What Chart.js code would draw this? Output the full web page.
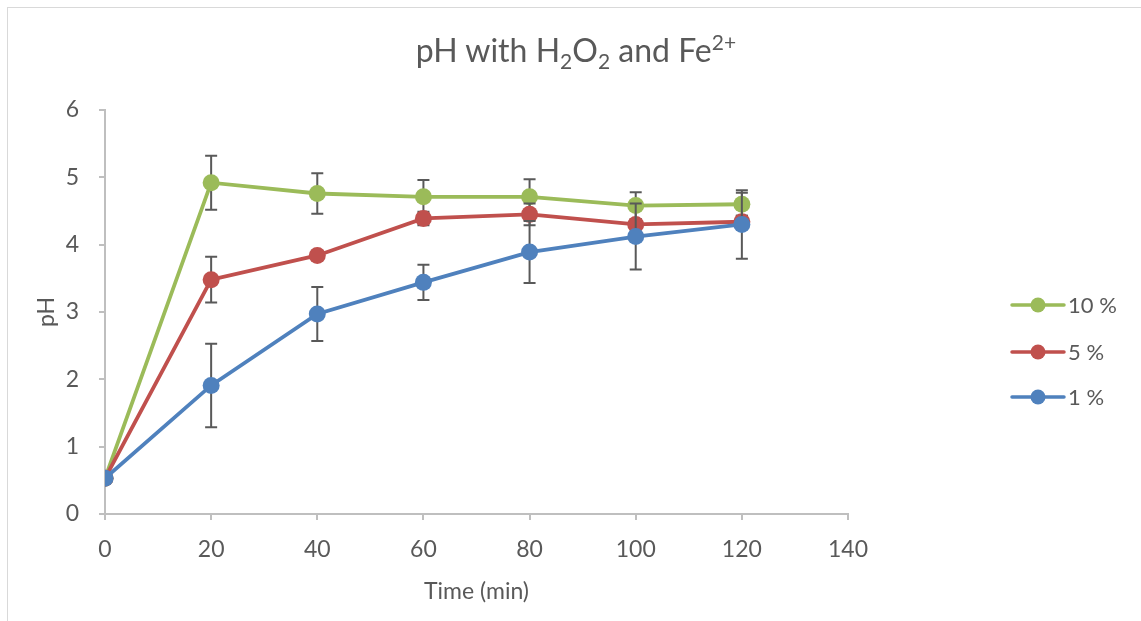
<!DOCTYPE html>
<html>
<head>
<meta charset="utf-8">
<script src="https://cdn.jsdelivr.net/npm/chart.js@4/dist/chart.umd.min.js"></script>
<style>
  html, body { margin: 0; padding: 0; background: #fff; overflow: hidden; }
  #wrap { position: relative; width: 1141px; height: 621px; }
  #frame { position: absolute; left: 7px; top: 7px; width: 1200px; height: 700px; border: 1px solid #d9d9d9; }
  #title { position: absolute; left: 0; width: 1152px; top: 29px; text-align: center;
           font-family: Lato, sans-serif; font-size: 32px; color: #595959; }
  #title sub, #title sup { font-size: 21px; }
  canvas { position: absolute; left: 0; top: 0; }
</style>
</head>
<body>
<div id="wrap">
  <div id="frame"></div>
  <canvas id="chart" width="1141" height="621"></canvas>
  <div id="title">pH with H<sub>2</sub>O<sub>2</sub> and Fe<sup>2+</sup></div>
</div>
<script>
// ===== DATA =====
const times = [0, 20, 40, 60, 80, 100, 120];
const xTicks = [0, 20, 40, 60, 80, 100, 120, 140];
const yTicks = [0, 1, 2, 3, 4, 5, 6];

const seriesLabels = ['10 %', '5 %', '1 %'];
const ph10 = [0.53, 4.92, 4.76, 4.71, 4.71, 4.58, 4.60];
const err10 = [0, 0.40, 0.30, 0.25, 0.26, 0.20, 0.17];
const ph5 = [0.53, 3.48, 3.84, 4.39, 4.45, 4.30, 4.34];
const err5 = [0, 0.34, 0.07, 0.10, 0.16, 0.05, 0.09];
const ph1 = [0.53, 1.91, 2.97, 3.44, 3.89, 4.12, 4.30];
const err1 = [0, 0.62, 0.40, 0.26, 0.46, 0.49, 0.51];

const colors = ['#9BBB59', '#C0504D', '#4F81BD'];
const FONT = 'Lato, sans-serif';
const TEXT = '#595959';
const AXIS = '#bfbfbf';

function toPoints(values) {
  return values.map((v, i) => ({ x: times[i], y: v }));
}

const allValues = [ph10, ph5, ph1];
const allErrors = [err10, err5, err1];

// error bars, drawn under each series' markers
const errorBars = {
  id: 'errorBars',
  beforeDatasetDraw(chart, args) {
    const i = args.index;
    const errs = allErrors[i];
    const vals = allValues[i];
    const { ctx, scales: { x, y } } = chart;
    ctx.save();
    ctx.strokeStyle = '#595959';
    ctx.lineWidth = 2;
    vals.forEach((v, k) => {
      if (!errs[k]) return;
      const px = x.getPixelForValue(times[k]);
      const top = y.getPixelForValue(v + errs[k]);
      const bot = y.getPixelForValue(v - errs[k]);
      ctx.beginPath();
      ctx.moveTo(px, top); ctx.lineTo(px, bot);
      ctx.moveTo(px - 6, top); ctx.lineTo(px + 6, top);
      ctx.moveTo(px - 6, bot); ctx.lineTo(px + 6, bot);
      ctx.stroke();
    });
    ctx.restore();
  },
};

// Excel style legend: line with a marker in the middle
const sideLegend = {
  id: 'sideLegend',
  afterDraw(chart) {
    const { ctx } = chart;
    const rows = [305, 352, 397];
    ctx.save();
    ctx.font = `22px ${FONT}`;
    ctx.textBaseline = 'middle';
    seriesLabels.forEach((label, i) => {
      const yy = rows[i];
      ctx.strokeStyle = colors[i];
      ctx.lineWidth = 3.5;
      ctx.lineCap = 'round';
      ctx.beginPath();
      ctx.moveTo(1012, yy); ctx.lineTo(1064, yy);
      ctx.stroke();
      ctx.fillStyle = colors[i];
      ctx.beginPath();
      ctx.arc(1038, yy, 7.5, 0, Math.PI * 2);
      ctx.fill();
      ctx.fillStyle = TEXT;
      ctx.fillText(label, 1068, yy + 1);
    });
    ctx.restore();
  },
};

new Chart(document.getElementById('chart').getContext('2d'), {
  type: 'line',
  data: {
    datasets: seriesLabels.map((label, i) => ({
      label,
      data: toPoints(allValues[i]),
      borderColor: colors[i],
      backgroundColor: colors[i],
      borderWidth: 3.8,
      pointRadius: 8.5,
      pointBorderWidth: 0,
      pointBackgroundColor: colors[i],
      tension: 0,
      order: 2 - i,
    })),
  },
  options: {
    responsive: false,
    animation: false,
    layout: { padding: { left: 20, right: 293, top: 110, bottom: 7 } },
    plugins: { legend: { display: false }, tooltip: { enabled: false } },
    scales: {
      x: {
        type: 'linear',
        min: 0,
        max: 140,
        afterBuildTicks: (scale) => { scale.ticks = xTicks.map(v => ({ value: v })); },
        border: { color: AXIS, width: 2 },
        grid: { drawOnChartArea: false, drawTicks: true, tickLength: 6, color: AXIS, lineWidth: 2 },
        ticks: { color: TEXT, font: { family: FONT, size: 23 }, padding: 16 },
        title: { display: true, text: 'Time (min)', color: TEXT, font: { family: FONT, size: 23 }, padding: { top: 0, bottom: 9 } },
        afterFit: (scale) => { scale.height = 100; },
      },
      y: {
        min: 0,
        max: 6,
        afterBuildTicks: (scale) => { scale.ticks = yTicks.map(v => ({ value: v })); },
        border: { color: AXIS, width: 2 },
        grid: { drawOnChartArea: false, drawTicks: true, tickLength: 6, color: AXIS, lineWidth: 2 },
        ticks: { color: TEXT, font: { family: FONT, size: 23 }, padding: 20 },
        title: { display: true, text: 'pH', color: TEXT, font: { family: FONT, size: 23 }, padding: { top: 13, bottom: 0 } },
        afterFit: (scale) => { scale.width = 85; },
      },
    },
  },
  plugins: [errorBars, sideLegend],
});
</script>
</body>
</html>
